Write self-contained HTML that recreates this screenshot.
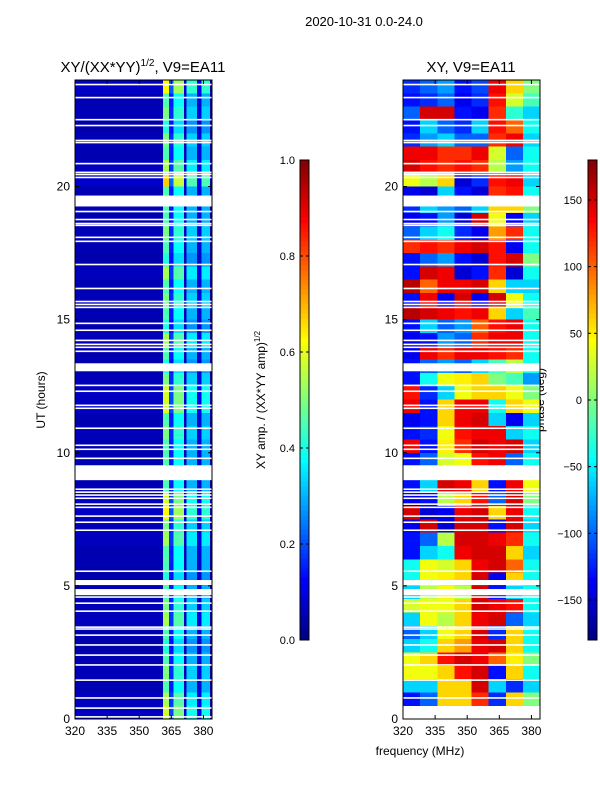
<!DOCTYPE html>
<html><head><meta charset="utf-8"><style>
body{margin:0;background:#fff;}
svg{display:block;font-family:"Liberation Sans",sans-serif;}
</style></head><body>
<svg id="fig" width="600" height="800" viewBox="0 0 600 800">
<rect width="600" height="800" fill="#fff"/>
<text x="364" y="26" font-size="13" text-anchor="middle">2020-10-31 0.0-24.0</text>
<text x="143" y="72" font-size="15" text-anchor="middle">XY/(XX*YY)<tspan font-size="10" dy="-6">1/2</tspan><tspan dy="6">, V9=EA11</tspan></text>
<text x="471" y="72" font-size="15" text-anchor="middle">XY, V9=EA11</text>
<text x="420" y="755" font-size="12" text-anchor="middle">frequency (MHz)</text>
<text transform="translate(45,400) rotate(-90)" font-size="12" text-anchor="middle">UT (hours)</text>
<text transform="translate(265,400) rotate(-90)" font-size="12" text-anchor="middle">XY amp. / (XX*YY amp)<tspan font-size="8" dy="-5">1/2</tspan></text>
<text transform="translate(544,400) rotate(-90)" font-size="12" text-anchor="middle">phase (deg)</text>
<g id="left"></g>
<g id="right"></g>
<g id="axes"></g>
<g id="cbars"></g>
</svg>
<script>
// ---- data ----
const freqStart = 320, freqEnd = 384;
const xTicks = [320, 335, 350, 365, 380];
const yTicks = [0, 5, 10, 15, 20];
const ampTicks = [0.0, 0.2, 0.4, 0.6, 0.8, 1.0];
const phaseTicks = [-150, -100, -50, 0, 50, 100, 150];
// amplitude channel profile (1 MHz channels 320..383)
const ampProfile = [
0.05,0.05,0.05,0.05,0.05,0.05,0.05,0.05,0.05,0.05,
0.05,0.05,0.05,0.05,0.05,0.05,0.05,0.05,0.05,0.05,
0.05,0.05,0.05,0.05,0.05,0.05,0.05,0.05,0.05,0.05,
0.05,0.05,0.05,0.05,0.05,0.05,0.05,0.05,0.05,0.05,
0.05,0.45,0.45,0.45,0.15,0.15,0.38,0.38,0.38,0.38,
0.38,0.06,0.3,0.3,0.3,0.3,0.3,0.08,0.08,0.3,
0.3,0.3,0.3,0.03];
// amplitude row gain per half hour (top = 24h down to 0h)
const ampRowGain = [1.4,1.0,1.1,0.9,1.1,1.0,1.2,1.5,1.0,1.0,
1.0,1.1,1.0,0.9,1.2,1.0,1.1,1.0,0.9,1.2,1.0,0.9,1.1,1.3,
1.3,1.0,1.1,1.0,1.0,1.1,1.0,1.3,1.4,1.1,1.2,1.0,
1.0,0.9,1.0,1.1,1.2,1.0,0.9,1.0,1.1,1.0,1.2,1.3];
// phase grid: 8 freq blocks (8 MHz) x 48 half-hour rows, top (24h) to bottom (0h)
const phaseGrid = [
[-120,-100,-80,-130,-110,140,60,0],
[-130,-120,-100,-140,-120,130,30,-20],
[-100,150,150,-130,-140,120,-30,-60],
[-130,-60,-100,-120,-60,130,100,-40],
[-120,-80,-60,-100,-100,120,140,-60],
[140,140,120,120,140,30,-100,-40],
[150,130,120,130,120,20,-80,-40],
[40,20,60,-150,-120,130,140,-60],
[-140,-150,-60,-130,-150,120,130,-40],
[-120,-60,-80,-100,-60,60,60,0],
[-140,-130,-80,-150,150,40,-140,-60],
[-100,-60,-40,-120,-140,80,120,-40],
[120,130,120,140,150,130,-140,-40],
[-130,-100,-80,-130,-150,130,150,0],
[-130,150,140,-150,-130,120,-150,-40],
[160,100,140,140,150,60,-60,-60],
[-130,140,-140,150,-140,150,40,-40],
[160,150,140,130,140,60,-60,-20],
[-130,-60,-100,-80,100,130,140,-40],
[-140,-130,-80,-100,120,140,140,-40],
[-140,140,120,140,140,130,120,-40],
[-130,-100,-80,-100,-60,-20,20,-40],
[-130,-40,40,50,60,0,-20,-80],
[130,-120,-60,40,60,60,40,0],
[140,-130,60,140,140,-40,60,40],
[-140,-130,60,140,150,-60,-140,-60],
[-130,-120,40,130,140,140,-60,-40],
[140,-130,50,120,150,140,150,-60],
[-130,-100,30,40,130,140,-100,-40],
[-120,-60,-40,150,100,120,60,40],
[-130,-60,150,140,60,-130,140,40],
[-140,-130,20,60,130,-100,150,0],
[150,-150,-140,140,150,60,140,-40],
[-140,150,-150,150,150,-130,150,-60],
[-130,-100,20,150,150,140,120,-40],
[-130,-60,-40,140,150,150,60,-60],
[-40,40,30,60,140,150,100,-40],
[-40,40,50,60,150,-140,60,-40],
[-60,20,40,20,150,-130,-60,-40],
[30,40,40,60,150,140,130,-40],
[-60,40,20,60,140,150,-100,-60],
[-100,-60,40,60,150,-120,60,-40],
[-60,-40,60,80,140,150,60,-40],
[40,60,130,150,140,100,50,0],
[40,40,60,130,150,-130,60,-40],
[-60,-60,60,60,150,-60,-120,-60],
[-130,-100,60,60,120,-120,60,0]];
// flagged time ranges (hours)
const flagBands = [[19.25,19.66],[13.06,13.36],[8.97,9.53],[5.03,5.22],[4.65,4.88]];
const flagLines = [23.83,23.34,22.51,22.29,21.73,21.65,20.86,20.53,20.45,20.34,19.06,18.76,18.61,18.54,18.09,17.94,17.07,16.17,15.68,15.57,15.46,14.86,14.60,14.22,14.07,13.96,13.81,12.53,12.31,11.78,11.67,10.92,10.28,10.13,9.79,8.63,8.52,8.41,8.29,8.07,7.95,7.62,7.39,7.09,5.55,4.58,4.35,4.05,3.45,3.38,3.15,2.78,2.40,2.03,1.46,0.79,0.41,0.08];

// ---- helpers ----
const NS = "http://www.w3.org/2000/svg";
const TOP = 80, BOT = 719;
const panels = [{x0:75,x1:212},{x0:403,x1:540}];
function yOf(h){return BOT - (h/24)*(BOT-TOP);}
function xOf(p,f){return p.x0 + (f-freqStart)/(freqEnd-freqStart)*(p.x1-p.x0);}
function jet(v){v=Math.max(0,Math.min(1,v));
 const r=Math.max(0,Math.min(1,1.5-Math.abs(4*v-3)));
 const g=Math.max(0,Math.min(1,1.5-Math.abs(4*v-2)));
 const b=Math.max(0,Math.min(1,1.5-Math.abs(4*v-1)));
 return `rgb(${Math.round(r*255)},${Math.round(g*255)},${Math.round(b*255)})`;}
function mk(tag,attrs,parent){const e=document.createElementNS(NS,tag);for(const k in attrs)e.setAttribute(k,attrs[k]);parent.appendChild(e);return e;}

const L=document.getElementById('left'), R=document.getElementById('right'), A=document.getElementById('axes'), C=document.getElementById('cbars');
const nRows = ampRowGain.length;
// amplitude heatmap
for(let r=0;r<nRows;r++){
 const hTop=24-r*0.5, hBot=hTop-0.5;
 for(let c=0;c<ampProfile.length;c++){
  const x=xOf(panels[0],freqStart+c), x2=xOf(panels[0],freqStart+c+1);
  const el=mk('rect',{x:x,y:yOf(hTop),width:x2-x+0.3,height:yOf(hBot)-yOf(hTop)+0.3,fill:jet(ampProfile[c]*ampRowGain[r]),'shape-rendering':'crispEdges'},L);
  
  
 }
}
// phase heatmap
const blk=(freqEnd-freqStart)/phaseGrid[0].length;
for(let r=0;r<phaseGrid.length;r++){
 const hTop=24-r*0.5, hBot=hTop-0.5;
 for(let c=0;c<phaseGrid[r].length;c++){
  const x=xOf(panels[1],freqStart+c*blk), x2=xOf(panels[1],freqStart+(c+1)*blk);
  const el=mk('rect',{x:x,y:yOf(hTop),width:x2-x+0.3,height:yOf(hBot)-yOf(hTop)+0.3,fill:jet((phaseGrid[r][c]+180)/360),'shape-rendering':'crispEdges'},R);
  
  
 }
}
// flags
panels.forEach((p,i)=>{
 const g=i?R:L;
 flagBands.forEach(b=>{
  const el=mk('rect',{x:p.x0,y:yOf(b[1]),width:p.x1-p.x0,height:yOf(b[0])-yOf(b[1]),fill:'#fff'},g);
  
  
 });
 flagLines.forEach(h=>{
  const el=mk('rect',{x:p.x0,y:yOf(h)-0.8,width:p.x1-p.x0,height:1.6,fill:'#fff'},g);
  
  
 });
});
// axes
panels.forEach((p,i)=>{
 const fr=mk('rect',{x:p.x0,y:TOP,width:p.x1-p.x0,height:BOT-TOP,fill:'none',stroke:'#000','stroke-width':1},A);
 
 
 xTicks.forEach(t=>{
  const x=xOf(p,t);
  mk('line',{x1:x,x2:x,y1:BOT,y2:BOT-4,stroke:'#000'},A);
  mk('line',{x1:x,x2:x,y1:TOP,y2:TOP+4,stroke:'#000'},A);
  const tx=mk('text',{x:x,y:BOT+16,'font-size':12,'text-anchor':'middle'},A);
  tx.textContent=t;
  
  
 });
 yTicks.forEach(t=>{
  const y=yOf(t);
  mk('line',{x1:p.x0,x2:p.x0+4,y1:y,y2:y,stroke:'#000'},A);
  mk('line',{x1:p.x1,x2:p.x1-4,y1:y,y2:y,stroke:'#000'},A);
  const tx=mk('text',{x:p.x0-5,y:y+4,'font-size':12,'text-anchor':'end'},A);
  tx.textContent=t;
  
  
 });
});
// colorbars
const cbs=[{x:300,min:0,max:1,ticks:ampTicks,fmt:v=>v.toFixed(1)},{x:588,min:-180,max:180,ticks:phaseTicks,fmt:v=>v<0?'\u2212'+(-v):''+v}];
const CT=160, CB=640, N=100;
cbs.forEach((cb,i)=>{
 for(let k=0;k<N;k++){
  const el=mk('rect',{x:cb.x,y:CB-(k+1)*(CB-CT)/N,width:9,height:(CB-CT)/N+0.5,fill:jet((k+0.5)/N),'shape-rendering':'crispEdges'},C);
  
  
 }
 const fr=mk('rect',{x:cb.x,y:CT,width:9,height:CB-CT,fill:'none',stroke:'#000'},C);
 
 
 cb.ticks.forEach(t=>{
  const y=CB-(t-cb.min)/(cb.max-cb.min)*(CB-CT);
  mk('line',{x1:cb.x,x2:cb.x+3,y1:y,y2:y,stroke:'#000'},C);
  mk('line',{x1:cb.x+9,x2:cb.x+6,y1:y,y2:y,stroke:'#000'},C);
  const tx=mk('text',{x:i?cb.x-6:cb.x-5,y:y+4,'font-size':11,'text-anchor':'end'},C);
  tx.textContent=cb.fmt(t);
  
  
 });
});
</script>
</body></html>
